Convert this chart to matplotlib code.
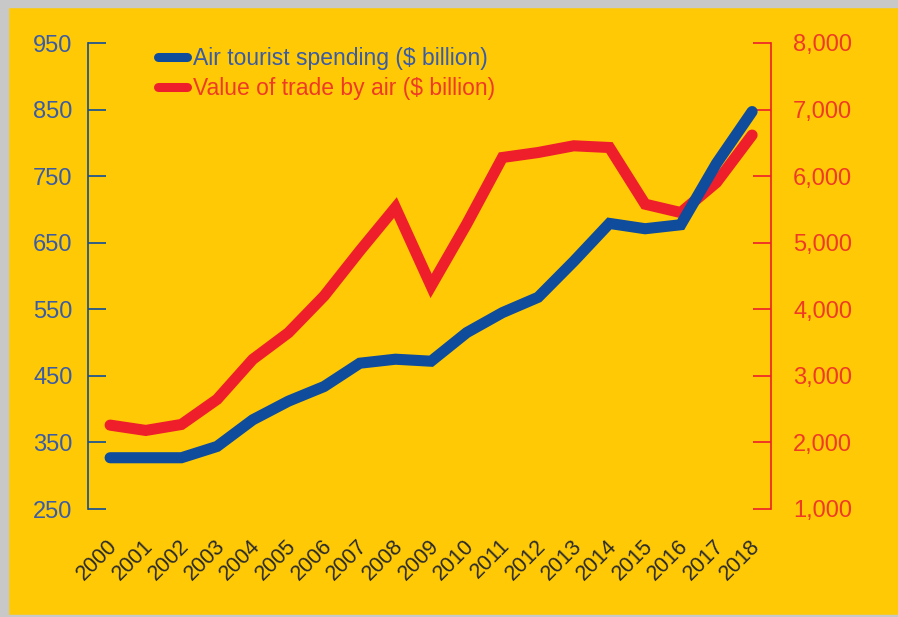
import numpy as np
import matplotlib
matplotlib.use('Agg')
import matplotlib.pyplot as plt
import matplotlib.transforms as mtransforms
from matplotlib.lines import Line2D
from matplotlib.patches import Rectangle

years = np.arange(2000, 2019)
tourist_spending = [327, 327, 327, 344, 384, 412, 434, 469, 475, 472,
                    515, 545, 568, 622, 679, 671, 677, 769, 847]
trade_value = [2260, 2180, 2270, 2647, 3248, 3648, 4200, 4877, 5528, 4350,
               5283, 6280, 6355, 6456, 6430, 5579, 5453, 5904, 6617]
left_ticks = [250, 350, 450, 550, 650, 750, 850, 950]
right_ticks = [1000, 2000, 3000, 4000, 5000, 6000, 7000, 8000]

YELLOW = '#FFCA05'
BLUE = '#0F4C9B'
RED = '#EE1F2B'
BLUE_TXT = '#3A5BA5'
RED_TXT = '#EF3A25'

plt.rcParams['font.family'] = ['Liberation Sans', 'DejaVu Sans']

fig = plt.figure(figsize=(8.98, 6.17), dpi=100, facecolor=YELLOW)
W, H = 898, 617

# grey frame along the top, left and bottom edges
for x0, y0, w, h in [(0, H - 7, W, 7), (0, 0, 8, H), (0, 0, W, 2)]:
    fig.patches.append(Rectangle((x0 / W, y0 / H), w / W, h / H,
                                 transform=fig.transFigure, color='#c8c8c8',
                                 zorder=0))

ax = fig.add_axes([88 / W, 1 - 509 / H, (771 - 88) / W, (509 - 43) / H])
ax.set_facecolor('none')
ax2 = ax.twinx()

ax.plot(years, tourist_spending, color=BLUE, lw=8, solid_capstyle='round',
        solid_joinstyle='miter', zorder=3)
ax2.plot(years, trade_value, color=RED, lw=8, solid_capstyle='round',
         solid_joinstyle='miter', zorder=2)
ax.set_zorder(ax2.get_zorder() + 1)

ax.set_xlim(1999.38, 2018.53)
ax.set_ylim(250, 950)
ax2.set_ylim(1000, 8000)

for a in (ax, ax2):
    a.spines['top'].set_visible(False)
    a.spines['bottom'].set_visible(False)
ax.spines['right'].set_visible(False)
ax2.spines['left'].set_visible(False)
ax.spines['left'].set_color(BLUE)
ax.spines['left'].set_linewidth(1.2)
ax2.spines['right'].set_color(RED)
ax2.spines['right'].set_linewidth(1.2)

ax.set_yticks(left_ticks)
ax.set_yticklabels([str(v) for v in left_ticks])
ax.tick_params(axis='y', direction='in', length=13, width=1.2, color=BLUE,
               labelcolor=BLUE_TXT, labelsize=17, pad=11)
ax2.set_yticks(right_ticks)
ax2.set_yticklabels([f'{v:,}' for v in right_ticks])
ax2.tick_params(axis='y', direction='in', length=13, width=1.2, color=RED,
                labelcolor=RED_TXT, labelsize=17, pad=16)

ax.set_xticks(years)
ax.set_xticklabels([str(y) for y in years], rotation=45, ha='right',
                   va='top', fontsize=15.5, color='#2a2a2a')
ax.tick_params(axis='x', length=0, pad=19)
shift = mtransforms.ScaledTranslation(12 / 100, 0, fig.dpi_scale_trans)
for lbl in ax.get_xticklabels():
    lbl.set_transform(lbl.get_transform() + shift)

handles = [Line2D([], [], color=BLUE, lw=6.5, solid_capstyle='round'),
           Line2D([], [], color=RED, lw=6.5, solid_capstyle='round')]
ax.legend(handles, ['Air tourist spending ($ billion)',
                    'Value of trade by air ($ billion)'],
          loc='upper left', bbox_to_anchor=(0.103, 0.992), frameon=False,
          borderpad=0, borderaxespad=0, handlelength=1.25, handletextpad=0.28,
          labelspacing=0.3, fontsize=16.5, labelcolor=[BLUE_TXT, RED_TXT])

fig.savefig('out.png', dpi=100, facecolor=YELLOW)
